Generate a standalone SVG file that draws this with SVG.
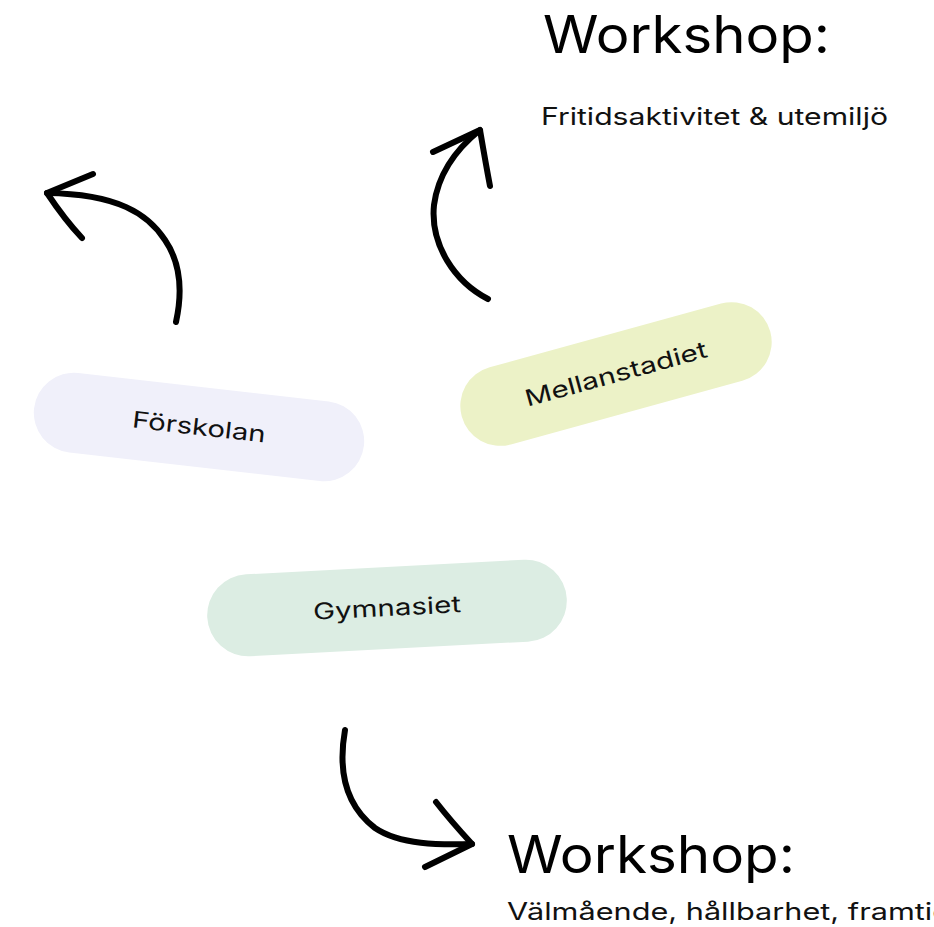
<svg xmlns="http://www.w3.org/2000/svg" width="934" height="927" viewBox="0 0 934 927">
<style>
  .pill-text { font-family: Inter, "Liberation Sans", sans-serif; font-size: 23px; fill: #111; text-anchor: middle; }
  .title { font-family: Inter, "Liberation Sans", sans-serif; font-size: 52px; fill: #000; }
  .sub { font-family: Inter, "Liberation Sans", sans-serif; font-size: 24px; fill: #111; }
  .arrow { fill: none; stroke: #000; stroke-width: 6; stroke-linecap: round; stroke-linejoin: round; }
</style>
<rect width="934" height="927" fill="#fff"/>

<g id="node-forskolan" transform="translate(199,427) rotate(6.5)">
  <rect x="-166" y="-40" width="332" height="80" rx="40" fill="#f0f0fa"/>
  <text class="pill-text" x="0" y="8" textLength="134" lengthAdjust="spacingAndGlyphs">Förskolan</text>
</g>

<g id="node-mellanstadiet" transform="translate(616,374) rotate(-15.4)">
  <rect x="-160" y="-40" width="320" height="80" rx="40" fill="#ecf2c7"/>
  <text class="pill-text" x="0" y="8" textLength="188" lengthAdjust="spacingAndGlyphs">Mellanstadiet</text>
</g>

<g id="node-gymnasiet" transform="translate(387,608) rotate(-3)">
  <rect x="-180" y="-41" width="360" height="82" rx="41" fill="#dcede3"/>
  <text class="pill-text" x="0" y="8" textLength="148" lengthAdjust="spacingAndGlyphs">Gymnasiet</text>
</g>

<g id="node-workshop-top">
  <text class="title" x="543" y="53" textLength="287" lengthAdjust="spacingAndGlyphs">Workshop:</text>
  <text class="sub" x="541" y="125" textLength="347" lengthAdjust="spacingAndGlyphs">Fritidsaktivitet &amp; utemiljö</text>
</g>

<g id="node-workshop-bottom">
  <text class="title" x="507" y="873" textLength="288" lengthAdjust="spacingAndGlyphs">Workshop:</text>
  <text class="sub" x="507" y="920" textLength="444" lengthAdjust="spacingAndGlyphs">Välmående, hållbarhet, framtid</text>
</g>

<g id="connectors">
  <path class="arrow" d="M176,322 C183,290 180,262 165,240 C148,214 118,194 47,193"/>
  <path class="arrow" d="M93,174 L47,193 Q65,220 82,238"/>
  <path class="arrow" d="M488,299 C455,282 430,245 434,205 C438,175 455,150 480,130"/>
  <path class="arrow" d="M433,152 L480,130 Q486,165 490,186"/>
  <path class="arrow" d="M345,730 C338,770 345,805 375,828 C400,845 440,845 472,844"/>
  <path class="arrow" d="M436,802 Q450,820 472,844 L425,867"/>
</g>
</svg>
